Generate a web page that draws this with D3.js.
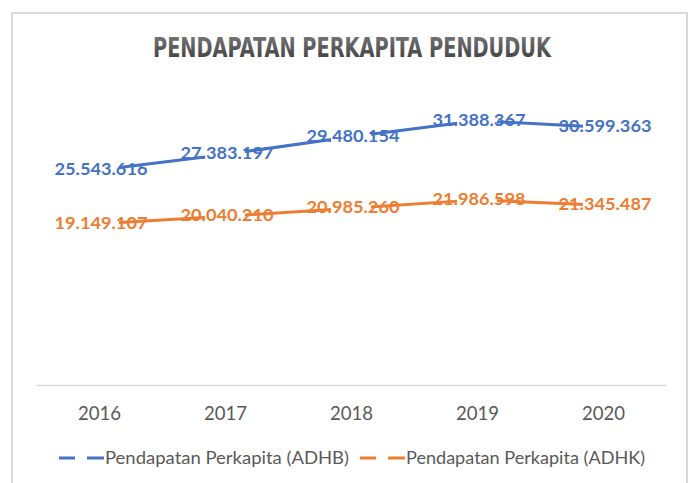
<!DOCTYPE html>
<html>
<head>
<meta charset="utf-8">
<script src="https://cdn.jsdelivr.net/npm/d3@7"></script>
<style>
  html, body { margin: 0; padding: 0; background: #fff; }
  svg { display: block; }
</style>
</head>
<body>
<svg id="chart" width="689" height="483"></svg>
<script>
const categories = ["2016", "2017", "2018", "2019", "2020"];
const adhb = [25543616, 27383197, 29480154, 31388367, 30599363];
const adhk = [19149107, 20040210, 20985260, 21986598, 21345487];
const seriesNames = ["Pendapatan Perkapita (ADHB)", "Pendapatan Perkapita (ADHK)"];
const seriesColors = ["#4472C4", "#ED7D31"];
const titleText = "PENDAPATAN PERKAPITA PENDUDUK";
const yMax = 35000000;

const svg = d3.select("#chart");
const W = 689, H = 483;

// frame
svg.append("rect").attr("x", 12).attr("y", 13).attr("width", 675).attr("height", 490)
  .attr("fill", "#fff").attr("stroke", "#d9d9d9").attr("stroke-width", 2);

// title gradient
const defs = svg.append("defs");
const grad = defs.append("linearGradient").attr("id", "tg").attr("x1", 0).attr("y1", 0).attr("x2", 0).attr("y2", 1);
grad.append("stop").attr("offset", "0%").attr("stop-color", "#7a7a7a");
grad.append("stop").attr("offset", "100%").attr("stop-color", "#3a3a3a");

svg.append("text").attr("x", 352).attr("y", 57)
  .attr("text-anchor", "middle")
  .attr("font-family", "'Liberation Sans Narrow', 'DejaVu Sans Condensed', 'Roboto Condensed', sans-serif")
  .attr("font-weight", "bold").attr("font-size", 26)
  .attr("textLength", 398).attr("lengthAdjust", "spacingAndGlyphs")
  .attr("fill", "url(#tg)")
  .text(titleText);

const x = d3.scalePoint().domain(categories).range([36, 666]).padding(0.5);
const y = d3.scaleLinear().domain([0, yMax]).range([385, 385 - 35 * 8.42]);

// axis
const xAxis = d3.axisBottom(x).tickSize(0).tickPadding(0);
const ax = svg.append("g").attr("transform", "translate(0,385)").call(xAxis);
ax.select(".domain").attr("stroke", "#d9d9d9").attr("stroke-width", 1.5);
ax.selectAll("text")
  .attr("y", 0).attr("dy", 0)
  .attr("transform", "translate(0,35)")
  .attr("font-family", "Lato, 'Open Sans', sans-serif")
  .attr("font-size", 18.5).attr("fill", "#595959")
  .attr("textLength", 43).attr("lengthAdjust", "spacingAndGlyphs");

const series = [adhb, adhk];
const line = d3.line().x((d, i) => x(categories[i])).y(d => y(d));

series.forEach((vals, s) => {
  svg.append("path").datum(vals)
    .attr("d", line)
    .attr("fill", "none")
    .attr("stroke", seriesColors[s])
    .attr("stroke-width", 3)
    .attr("stroke-linecap", "round")
    .attr("stroke-linejoin", "round");
});

// label backgrounds (hide line near the points)
series.forEach((vals, s) => {
  svg.append("g").selectAll("rect").data(vals).join("rect")
    .attr("x", (d, i) => x(categories[i]) - 20)
    .attr("y", d => y(d) - 6)
    .attr("width", 40).attr("height", 12)
    .attr("fill", "#fff");
});

const fmt = v => d3.format(",")(v).replace(/,/g, ".");
series.forEach((vals, s) => {
  svg.append("g").selectAll("text").data(vals).join("text")
    .attr("x", (d, i) => x(categories[i]) + 2)
    .attr("y", d => y(d) + 5)
    .attr("text-anchor", "middle")
    .attr("font-family", "Lato, 'Open Sans', sans-serif")
    .attr("font-weight", "bold").attr("font-size", 17.5)
    .attr("fill", seriesColors[s])
    .attr("textLength", 93).attr("lengthAdjust", "spacingAndGlyphs")
    .text(d => fmt(d));
});

// legend
const legendX = [59, 360];
const legendW = [244, 239];
seriesNames.forEach((name, s) => {
  const g = svg.append("g").attr("transform", `translate(${legendX[s]},458)`);
  g.append("line").attr("x1", 0).attr("x2", 45).attr("y1", 0).attr("y2", 0)
    .attr("stroke", seriesColors[s]).attr("stroke-width", 3)
    .attr("stroke-dasharray", "16 12 17");
  g.append("text").attr("x", 46).attr("y", 6)
    .attr("font-family", "Lato, 'Open Sans', sans-serif")
    .attr("font-size", 16.5).attr("fill", "#595959")
    .attr("textLength", legendW[s]).attr("lengthAdjust", "spacingAndGlyphs")
    .text(name);
});
</script>
</body>
</html>
